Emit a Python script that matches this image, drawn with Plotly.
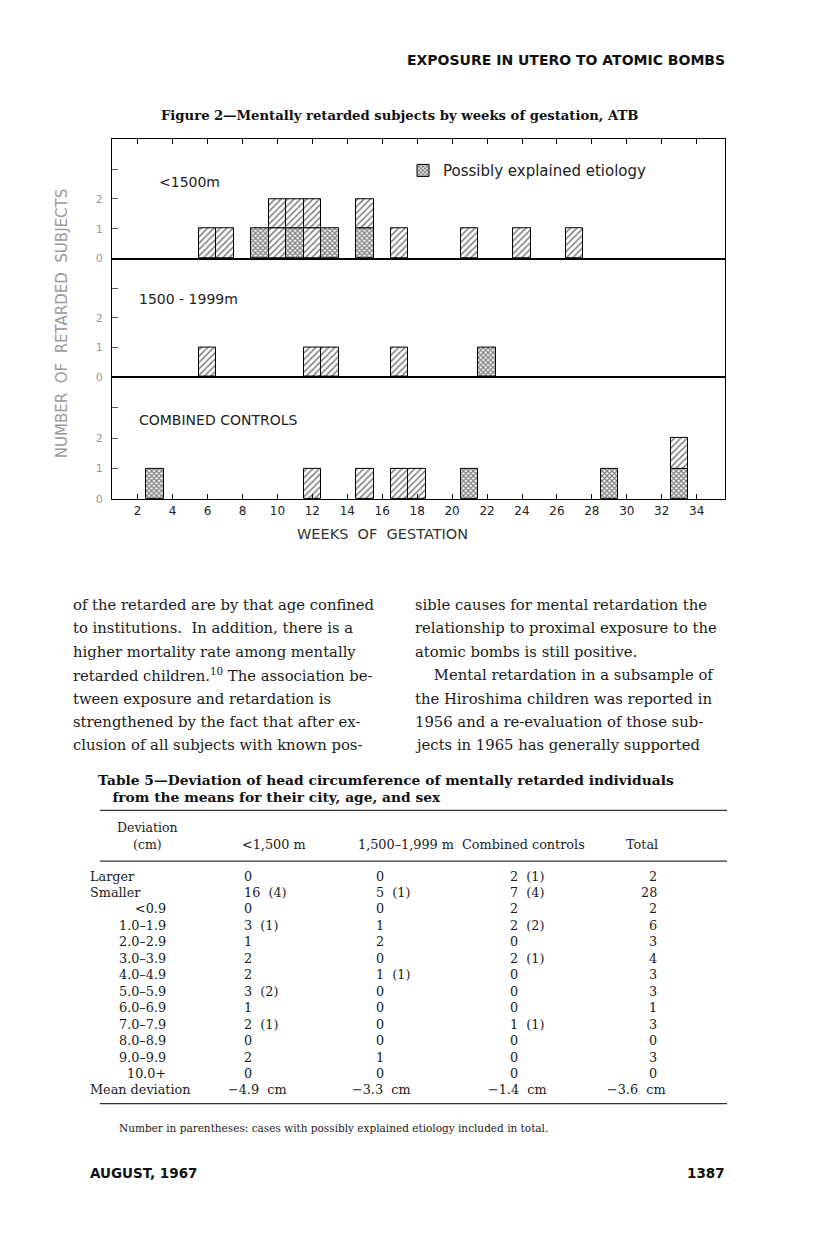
import plotly.graph_objects as go

# ---- chart data (weeks of gestation, unit counts per week) ----
weeks_1500 = [6, 7, 9, 10, 11, 12, 13, 15, 17, 21, 24, 27]
expl_1500 = [0, 0, 1, 0, 1, 0, 1, 1, 0, 0, 0, 0]
other_1500 = [1, 1, 0, 2, 1, 2, 0, 1, 1, 1, 1, 1]

weeks_1999 = [6, 12, 13, 17, 22]
expl_1999 = [0, 0, 0, 0, 1]
other_1999 = [1, 1, 1, 1, 0]

weeks_ctrl = [3, 12, 15, 17, 18, 21, 29, 33]
expl_ctrl = [1, 0, 0, 0, 0, 1, 1, 1]
other_ctrl = [0, 1, 1, 1, 1, 0, 0, 1]

panel_names = ["<1500m", "1500 - 1999m", "COMBINED CONTROLS"]
x_ticks = [2, 4, 6, 8, 10, 12, 14, 16, 18, 20, 22, 24, 26, 28, 30, 32, 34]
y_ticks = [0, 1, 2]

# ---- page text ----
header = "EXPOSURE IN UTERO TO ATOMIC BOMBS"
fig_title = "Figure 2—Mentally retarded subjects by weeks of gestation, ATB"
left_col = [
    "of the retarded are by that age confined",
    "to institutions.  In addition, there is a",
    "higher mortality rate among mentally",
    "retarded children.<sup>10</sup> The association be-",
    "tween exposure and retardation is",
    "strengthened by the fact that after ex-",
    "clusion of all subjects with known pos-",
]
right_col = [
    "sible causes for mental retardation the",
    "relationship to proximal exposure to the",
    "atomic bombs is still positive.",
    "    Mental retardation in a subsample of",
    "the Hiroshima children was reported in",
    "1956 and a re-evaluation of those sub-",
    "jects in 1965 has generally supported",
]

# ---- table 5 ----
table_caption = [
    "Table 5—Deviation of head circumference of mentally retarded individuals",
    "   from the means for their city, age, and sex",
]
col_heads = ["<1,500 m", "1,500–1,999 m", "Combined controls", "Total"]
row_labels = ["Larger", "Smaller", "<0.9", "1.0–1.9", "2.0–2.9", "3.0–3.9",
              "4.0–4.9", "5.0–5.9", "6.0–6.9", "7.0–7.9", "8.0–8.9",
              "9.0–9.9", "10.0+", "Mean deviation"]
row_indent = [False, False, True, True, True, True, True, True, True, True,
              True, True, True, False]
col_1500 = ["0", "16  (4)", "0", "3  (1)", "1", "2", "2", "3  (2)", "1",
            "2  (1)", "0", "2", "0", "−4.9  cm"]
col_1999 = ["0", "5  (1)", "0", "1", "2", "0", "1  (1)", "0", "0", "0", "0",
            "1", "0", "−3.3  cm"]
col_ctrl = ["2  (1)", "7  (4)", "2", "2  (2)", "0", "2  (1)", "0", "0", "0",
            "1  (1)", "0", "0", "0", "−1.4  cm"]
col_total = ["2", "28", "2", "6", "3", "4", "3", "3", "1", "3", "0", "3", "0",
             "−3.6  cm"]
footnote = "Number in parentheses: cases with possibly explained etiology included in total."
footer_left = "AUGUST, 1967"
footer_right = "1387"

# the page body adds an 8px margin, so the figure is 8px smaller and
# page coordinates are shifted by 8px
OFF = 8
W, H = 816 - OFF, 1236 - OFF


def px(x):
    return (x - OFF) / W


def py(y):
    return 1 - (y - OFF) / H


SANS = "DejaVu Sans"
SERIF = "DejaVu Serif"

fig = go.Figure()

panels = [
    (weeks_1500, expl_1500, other_1500),
    (weeks_1999, expl_1999, other_1999),
    (weeks_ctrl, expl_ctrl, other_ctrl),
]
axis_ids = [("x", "y"), ("x2", "y2"), ("x3", "y3")]

# one box per subject: explained (cross-hatch) stacked under the rest (hatch)
for (weeks, expl, other), (xa, ya) in zip(panels, axis_ids):
    kinds = [["x"] * e + ["/"] * o for e, o in zip(expl, other)]
    levels = max(len(k) for k in kinds)
    for lev in range(levels):
        xs = [w for w, k in zip(weeks, kinds) if len(k) > lev]
        shapes = [k[lev] for k in kinds if len(k) > lev]
        sizes = [3.5 if s == "x" else 4.5 for s in shapes]
        solid = [0.6 if s == "x" else 0.33 for s in shapes]
        fig.add_trace(go.Bar(
            x=xs, y=[1] * len(xs), base=[lev] * len(xs),
            width=1, xaxis=xa, yaxis=ya, showlegend=False,
            marker=dict(color="white", line=dict(color="black", width=1),
                        pattern=dict(shape=shapes, fgcolor="black",
                                     bgcolor="white", size=sizes,
                                     solidity=solid)),
            hoverinfo="x+y",
        ))

# legend swatch
fig.add_trace(go.Bar(
    x=[None], y=[None], name="Possibly explained etiology",
    marker=dict(color="white", line=dict(color="black", width=1),
                pattern=dict(shape="x", fgcolor="black", bgcolor="white",
                             size=3.5, solidity=0.6)),
    showlegend=True,
))

x_dom = [px(112), px(725)]
y_doms = [[py(260), py(140)], [py(379), py(260)], [py(502), py(379)]]
x_range = [0.53, 35.62]

xbase = dict(range=x_range, domain=x_dom, showline=True, mirror=True,
             linecolor="black", linewidth=1.3, showgrid=False, zeroline=False,
             tickvals=x_ticks, ticklen=5, tickcolor="black")
ybase = dict(range=[0, 4], showline=True, mirror=True, linecolor="black",
             linewidth=1.3, showgrid=False, zeroline=False, ticks="inside",
             ticklen=6, tickcolor="#555", tickvals=y_ticks,
             minor=dict(dtick=1, ticks="inside", ticklen=6, tickcolor="#555"),
             ticklabelstandoff=6,
             tickfont=dict(family=SANS, size=11, color="#999"))

fig.update_layout(
    width=W, height=H,
    margin=dict(l=0, r=0, t=0, b=0),
    paper_bgcolor="white", plot_bgcolor="white",
    barmode="overlay", bargap=0,
    xaxis=dict(xbase, anchor="y", side="top", ticks="inside",
               showticklabels=False),
    xaxis2=dict(xbase, anchor="y2", matches="x", ticks="",
                showticklabels=False),
    xaxis3=dict(xbase, anchor="y3", matches="x", ticks="inside",
                tickfont=dict(family=SANS, size=12, color="#222")),
    yaxis=dict(ybase, domain=y_doms[0], anchor="x"),
    yaxis2=dict(ybase, domain=y_doms[1], anchor="x2"),
    yaxis3=dict(ybase, domain=y_doms[2], anchor="x3"),
    legend=dict(x=px(403), y=py(155), xanchor="left", yanchor="top",
                bgcolor="rgba(0,0,0,0)", itemwidth=30,
                font=dict(family=SANS, size=15, color="#222")),
    font=dict(family=SANS, color="#222"),
)

ann = []


def add_text(s, x, y, size, family=SERIF, color="#1a1a1a", anchor="left",
             angle=0):
    ann.append(dict(text=s, x=px(x), y=py(y), xref="paper", yref="paper",
                    xanchor=anchor, yanchor="middle", showarrow=False,
                    textangle=angle, font=dict(family=family, size=size,
                                               color=color)))


# panel labels
for name, (lx, ly) in zip(panel_names, [(157, 183), (137, 301), (137, 422)]):
    add_text(name, lx, ly, 14, family=SANS, color="#222")

# axis titles
add_text("WEEKS  OF  GESTATION", 382, 537, 14.5, family=SANS, color="#333",
         anchor="center")
add_text("NUMBER  OF  RETARDED  SUBJECTS", 62, 326, 15, family=SANS,
         color="#9a9a9a", anchor="center", angle=-90)

# header / titles
add_text("<b>" + header + "</b>", 727, 60, 14, family=SANS, color="#111",
         anchor="right")
add_text("<b>" + fig_title + "</b>", 399, 116, 13.2, family=SERIF,
         color="#111", anchor="center")

# body text columns
for i, line in enumerate(left_col):
    add_text(line, 71, 608 + i * 23.5, 14.8)
for i, line in enumerate(right_col):
    add_text(line, 413, 608 + i * 23.5, 14.8)

# table
for i, line in enumerate(table_caption):
    add_text("<b>" + line + "</b>", 96, 784 + i * 18, 13.8, color="#111")
add_text("Deviation", 147, 832, 12.5, anchor="center")
add_text("(cm)", 147, 849, 12.5, anchor="center")
add_text(col_heads[0], 240, 849, 12.8)
add_text(col_heads[1], 356, 849, 12.8)
add_text(col_heads[2], 460, 849, 12.8)
add_text(col_heads[3], 660, 849, 12.8, anchor="right")

row_y0, row_dy = 881, 16.55
for i, lab in enumerate(row_labels):
    y = row_y0 + i * row_dy
    if row_indent[i]:
        add_text(lab, 168, y, 12.8, anchor="right")
    else:
        add_text(lab, 88, y, 12.8)
    last = i == len(row_labels) - 1
    add_text(col_1500[i], 226 if last else 242, y, 12.8)
    add_text(col_1999[i], 350 if last else 374, y, 12.8)
    add_text(col_ctrl[i], 486 if last else 508, y, 12.8)
    add_text(col_total[i], 668 if last else 659, y, 12.8, anchor="right")

add_text(footnote, 117, 1134, 10.5)
add_text("<b>" + footer_left + "</b>", 88, 1180, 13.5, family=SANS,
         color="#111")
add_text("<b>" + footer_right + "</b>", 727, 1180, 13.5, family=SANS,
         color="#111", anchor="right")

fig.update_layout(annotations=ann)

# table rules
for y in [815, 866, 1110]:
    fig.add_shape(type="line", xref="paper", yref="paper",
                  x0=px(100), x1=px(727), y0=py(y), y1=py(y),
                  line=dict(color="#333", width=1.2))

fig.write_html("out.html")
